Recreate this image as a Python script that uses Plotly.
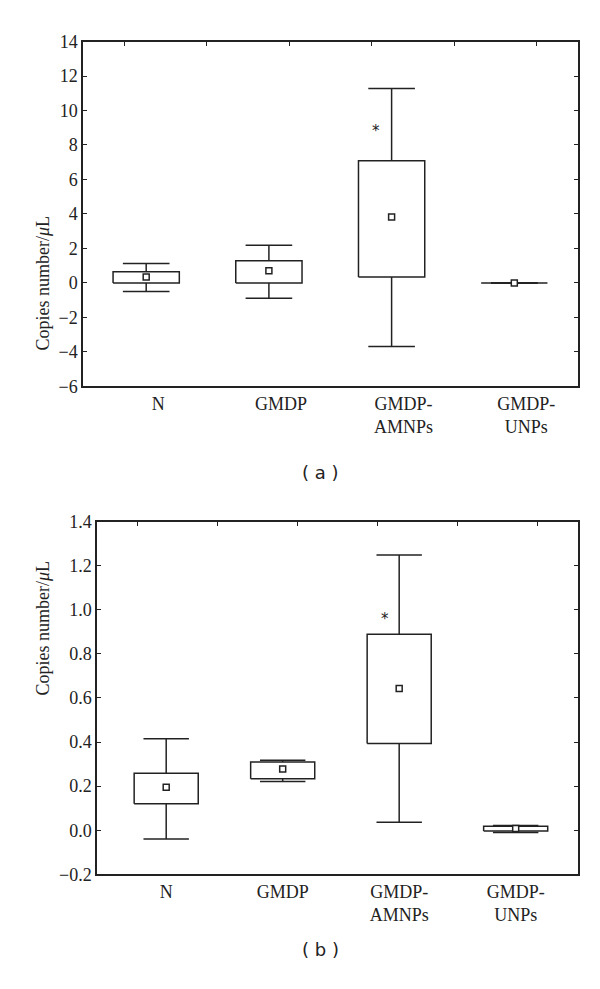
import plotly.graph_objects as go

categories = ["N", "GMDP", "GMDP-<br>AMNPs", "GMDP-<br>UNPs"]
positions = [1, 2, 3, 4]

# panel (a): copies number / uL
a_mean = [0.35, 0.70, 3.83, 0.0]
a_box_lo = [0.0, 0.0, 0.35, 0.0]
a_box_hi = [0.65, 1.29, 7.09, 0.0]
a_whisk_lo = [-0.50, -0.89, -3.69, 0.0]
a_whisk_hi = [1.12, 2.18, 11.27, 0.0]
a_star = [8.96]

# panel (b)
b_mean = [0.195, 0.278, 0.643, 0.008]
b_box_lo = [0.12, 0.234, 0.394, -0.003]
b_box_hi = [0.259, 0.310, 0.889, 0.018]
b_whisk_lo = [-0.04, 0.221, 0.036, -0.010]
b_whisk_hi = [0.415, 0.317, 1.249, 0.021]
b_star = [0.97]

frame_ticks = [0.5, 1.5, 2.5, 3.5, 4.5, 5.5]

serif = "Liberation Serif"
ink = "#222222"
W, H = 600, 989
OFF = 8  # page body margin


def px(x):
    return (x - OFF) / W


def py(y):
    return 1 - (y - OFF) / H


fig = go.Figure()


def add_panel(xa, ya, lo, hi, wlo, whi, mean, half_box, half_cap):
    # box = mean +/- SE, whiskers = mean +/- SD (no median line in the original)
    for p, l, h in zip(positions, lo, hi):
        fig.add_trace(go.Scatter(
            x=[p - half_box, p + half_box, p + half_box, p - half_box, p - half_box],
            y=[l, l, h, h, l],
            mode="lines", fill="toself", fillcolor="white",
            line=dict(color=ink, width=1.5),
            showlegend=False, hoverinfo="skip", xaxis=xa, yaxis=ya,
        ))
    wx, wy = [], []
    for p, l, h, a, b in zip(positions, lo, hi, wlo, whi):
        wx += [p, p, None, p - half_cap, p + half_cap, None,
               p, p, None, p - half_cap, p + half_cap, None]
        wy += [h, b, None, b, b, None, l, a, None, a, a, None]
    fig.add_trace(go.Scatter(
        x=wx, y=wy, mode="lines", line=dict(color=ink, width=1.5),
        showlegend=False, hoverinfo="skip", xaxis=xa, yaxis=ya,
    ))
    fig.add_trace(go.Scatter(
        x=positions, y=mean, mode="markers",
        marker=dict(symbol="square", size=6, color="white",
                    line=dict(color=ink, width=1.5)),
        showlegend=False, xaxis=xa, yaxis=ya,
    ))


add_panel("x", "y", a_box_lo, a_box_hi, a_whisk_lo, a_whisk_hi, a_mean, 0.27, 0.19)
add_panel("x2", "y2", b_box_lo, b_box_hi, b_whisk_lo, b_whisk_hi, b_mean, 0.275, 0.195)

xcommon = dict(
    tickvals=positions, ticktext=categories, ticks="",
    showline=True, linecolor=ink, linewidth=1.5, mirror=True,
    showgrid=False, zeroline=False,
    tickfont=dict(family=serif, size=18, color=ink),
)
ycommon = dict(
    ticks="inside", ticklen=4, tickcolor=ink, tickwidth=1.2,
    showline=True, linecolor=ink, linewidth=1.5, mirror="ticks",
    showgrid=False, zeroline=False,
    tickfont=dict(family=serif, size=18, color=ink),
)
topcommon = dict(
    range=[0, 6], tickvals=frame_ticks, ticks="inside", ticklen=4,
    tickcolor=ink, tickwidth=1.2, showticklabels=False,
    showline=False, showgrid=False, zeroline=False, side="top",
)

fig.update_layout(
    width=W, height=H,
    margin=dict(l=0, r=0, t=0, b=0),
    paper_bgcolor="white", plot_bgcolor="white",
    xaxis=dict(domain=[px(83), px(578)], range=[0.485, 4.519], anchor="y",
               ticklabelshift=12, **xcommon),
    yaxis=dict(domain=[py(384), py(32)], range=[-6, 14], dtick=2, anchor="x",
               **ycommon),
    xaxis2=dict(domain=[px(97), px(578)], range=[0.406, 4.535], anchor="y2",
                **xcommon),
    yaxis2=dict(domain=[py(882), py(522)], range=[-0.2, 1.4], dtick=0.2,
                tickformat=".1f", anchor="x2", **ycommon),
    xaxis3=dict(overlaying="x", anchor="y", **topcommon),
    xaxis4=dict(overlaying="x2", anchor="y2", **topcommon),
)

# empty traces so the top tick axes get drawn
fig.add_trace(go.Scatter(x=[None], y=[None], xaxis="x3", yaxis="y",
                         showlegend=False, hoverinfo="skip"))
fig.add_trace(go.Scatter(x=[None], y=[None], xaxis="x4", yaxis="y2",
                         showlegend=False, hoverinfo="skip"))

# significance stars
fig.add_annotation(x=3, y=a_star[0], xref="x", yref="y", text="*",
                   showarrow=False, xshift=-16, yshift=-3,
                   font=dict(family="DejaVu Sans", size=15, color=ink))
fig.add_annotation(x=3, y=b_star[0], xref="x2", yref="y2", text="*",
                   showarrow=False, xshift=-14, yshift=-3,
                   font=dict(family="DejaVu Sans", size=15, color=ink))

# y axis titles
ytitle = "Copies number/<i>μ</i>L"
for yc in (208, 702):
    fig.add_annotation(x=px(31), y=py(yc), xref="paper", yref="paper",
                       text=ytitle, textangle=-90, showarrow=False,
                       font=dict(family=serif, size=18, color=ink))

# panel letters
for lbl, yc in (("( a )", 472), ("( b )", 971)):
    fig.add_annotation(x=px(321), y=py(yc), xref="paper", yref="paper",
                       text=lbl, showarrow=False,
                       font=dict(family="DejaVu Sans", size=18, color=ink))

fig.write_html("out.html")
